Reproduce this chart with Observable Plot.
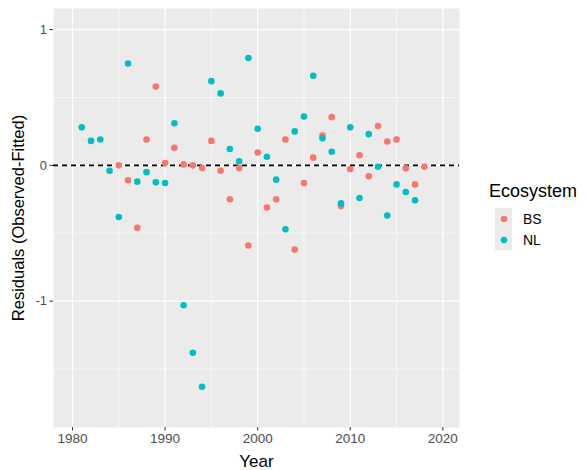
<!DOCTYPE html>
<html>
<head>
<meta charset="utf-8">
<script src="https://cdn.jsdelivr.net/npm/d3@7"></script>
<script src="https://cdn.jsdelivr.net/npm/@observablehq/plot@0.6"></script>
<style>
  html, body { margin: 0; padding: 0; background: #fff; }
  body { width: 587px; height: 470px; overflow: hidden; font-family: "Liberation Sans", Arial, sans-serif; }
  #wrap { position: relative; width: 587px; height: 470px; }
  #chart { position: absolute; left: 0; top: 0; }
  #legend { position: absolute; left: 489px; top: 181px; color: #000; }
  #legend .title { font-size: 18px; margin-bottom: 6px; white-space: nowrap; }
  #legend .row { display: flex; align-items: center; height: 21px; margin-left: 6px; }
  #legend .key { width: 17px; height: 21px; background: #ebebeb; display: flex; align-items: center; justify-content: center; }
  #legend .lab { font-size: 14px; margin-left: 11px; }
</style>
</head>
<body>
<div id="wrap"><div id="chart"></div><div id="legend"></div></div>
<script>
const ecosystems = ["BS", "NL"];
const colors = ["#F8766D", "#00BFC4"];

const nlYears = d3.range(1981, 2018);
const nlResid = [0.28, 0.18, 0.19, -0.04, -0.38, 0.75, -0.12, -0.05, -0.125, -0.13,
  0.31, -1.03, -1.38, -1.63, 0.62, 0.53, 0.12, 0.03, 0.79, 0.27,
  0.064, -0.105, -0.47, 0.25, 0.36, 0.66, 0.20, 0.10, -0.28, 0.28,
  -0.24, 0.23, -0.01, -0.37, -0.14, -0.196, -0.257];

const bsYears = d3.range(1985, 2019);
const bsResid = [0.00, -0.11, -0.46, 0.19, 0.58, 0.017, 0.13, 0.007, 0.00, -0.02,
  0.18, -0.04, -0.25, -0.02, -0.59, 0.095, -0.31, -0.25, 0.19, -0.62,
  -0.13, 0.057, 0.22, 0.355, -0.30, -0.027, 0.074, -0.08, 0.29, 0.176,
  0.19, -0.022, -0.14, -0.01];

const xTicks = [1980, 1990, 2000, 2010, 2020];
const xMinor = [1985, 1995, 2005, 2015];
const yTicks = [-1, 0, 1];
const yMinor = [-1.5, -0.5, 0.5];

const data = [
  ...bsYears.map((y, i) => ({year: y, resid: bsResid[i], eco: "BS"})),
  ...nlYears.map((y, i) => ({year: y, resid: nlResid[i], eco: "NL"}))
];

const plot = Plot.plot({
  width: 465,
  height: 470,
  marginLeft: 53,
  marginRight: 6,
  marginTop: 8,
  marginBottom: 43,
  style: {fontFamily: "Liberation Sans, Arial, sans-serif", background: "#fff"},
  x: {domain: [1977.95, 2021.8]},
  y: {domain: [-1.93, 1.155]},
  color: {domain: ecosystems, range: colors},
  marks: [
    Plot.frame({fill: "#ebebeb", stroke: null}),
    Plot.gridX(xMinor, {stroke: "#fff", strokeOpacity: 1, strokeWidth: 0.6}),
    Plot.gridY(yMinor, {stroke: "#fff", strokeOpacity: 1, strokeWidth: 0.6}),
    Plot.gridX(xTicks, {stroke: "#fff", strokeOpacity: 1, strokeWidth: 1.2}),
    Plot.gridY(yTicks, {stroke: "#fff", strokeOpacity: 1, strokeWidth: 1.2}),
    Plot.axisX({ticks: xTicks, tickFormat: "d", label: null, tickSize: 3.5, tickPadding: 2, fontSize: 13.5, color: "#4d4d4d", stroke: "#333"}),
    Plot.axisY({ticks: yTicks, label: null, tickSize: 3.5, tickPadding: 3, fontSize: 13, color: "#4d4d4d", stroke: "#333", tickFormat: d => d < 0 ? "-" + Math.abs(d) : String(d)}),
    Plot.ruleY([0], {stroke: "#000", strokeWidth: 1.6, strokeDasharray: "5,4"}),
    Plot.dot(data, {x: "year", y: "resid", fill: "eco", r: 3.3, stroke: null}),
    Plot.text(["Year"], {frameAnchor: "bottom", dy: 34, fontSize: 17, fill: "#000", textAnchor: "middle", lineAnchor: "middle"}),
    Plot.text(["Residuals (Observed-Fitted)"], {frameAnchor: "left", dx: -35, rotate: -90, fontSize: 16.5, fill: "#000", textAnchor: "middle", lineAnchor: "middle"})
  ]
});
document.getElementById("chart").appendChild(plot);

const color = plot.scale("color");
const legend = document.getElementById("legend");
let html = '<div class="title">Ecosystem</div>';
for (const e of ecosystems) {
  const c = colors[color.domain.indexOf(e)];
  html += `<div class="row"><div class="key"><svg width="8" height="8"><circle cx="4" cy="4" r="3.3" fill="${c}"/></svg></div><div class="lab">${e}</div></div>`;
}
legend.innerHTML = html;
</script>
</body>
</html>
